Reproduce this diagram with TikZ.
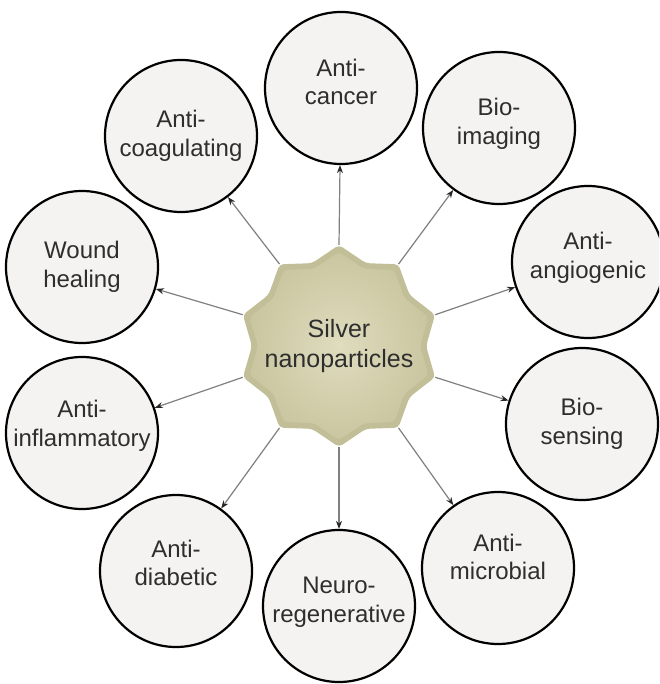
\documentclass[tikz,border=0pt]{standalone}
\usepackage{fontspec}
\setmainfont{Liberation Sans}
\usetikzlibrary{shapes.geometric,arrows.meta}
\definecolor{circfill}{HTML}{F4F3F1}
\definecolor{txt}{HTML}{2E2E2E}
\definecolor{starin}{HTML}{DFDCBF}
\definecolor{starout}{HTML}{CAC6A0}
\definecolor{starrim}{HTML}{C2BE97}
\definecolor{conn}{HTML}{808080}
\begin{document}
\begin{tikzpicture}[x=1pt,y=-1pt,
 bubble/.style={circle,draw=black,line width=2.2pt,fill=circfill,minimum size=152pt,inner sep=0pt},
 lbl/.style={font=\fontsize{24}{28.5}\selectfont,text=txt,align=center,inner sep=0pt},
 corelbl/.style={font=\fontsize{25}{30}\selectfont,text=txt,align=center,inner sep=0pt},
 core/.style={star,star points=10,star point ratio=1.16,minimum size=202pt,inner sep=0pt,
   fill=starrim,rounded corners=4pt},
 coreface/.style={star,star points=10,star point ratio=1.16,minimum size=188pt,inner sep=0pt,
   shade,inner color=starin,outer color=starout,rounded corners=4pt},
 link/.style={draw=conn,line width=1.2pt,-{Stealth[length=8pt,width=6pt,color=black!85]}}
]
\useasboundingbox (0,0) rectangle (659,684);
\clip (0,0) rectangle (659,684);
\fill[white] (0,0) rectangle (659,684);

\node[core] (s) at (339,346) {};
\node[coreface] (sf) at (339,346) {};
\node[corelbl] (st) at (339,346) {Silver\\nanoparticles};

\node[bubble] (c1) at (341,88) {};
\node[bubble] (c2) at (181,136) {};
\node[bubble] (c3) at (82,267) {};
\node[bubble] (c4) at (82,433) {};
\node[bubble] (c5) at (176,571) {};
\node[bubble] (c6) at (339,606) {};
\node[bubble] (c7) at (498,568) {};
\node[bubble] (c8) at (582,424) {};
\node[bubble] (c9) at (588,262) {};
\node[bubble] (c10) at (499,128) {};

\node[lbl] (t1) at (341,82) {Anti-\\cancer};
\node[lbl] (t2) at (181,136) {Anti-\\coagulating};
\node[lbl] (t3) at (82,267) {Wound\\healing};
\node[lbl] (t4) at (82,426) {Anti-\\inflammatory};
\node[lbl] (t5) at (176,563) {Anti-\\diabetic};
\node[lbl] (t6) at (339,602) {Neuro-\\regenerative};
\node[lbl] (t7) at (498,557) {Anti-\\microbial};
\node[lbl] (t8) at (582,424) {Bio-\\sensing};
\node[lbl] (t9) at (588,258) {Anti-\\angiogenic};
\node[lbl] (t10) at (499,124) {Bio-\\imaging};

\draw[link] (s.outer point 1) -- (c1);
\draw[link] (s.outer point 2) -- (c2);
\draw[link] (s.outer point 3) -- (c3);
\draw[link] (s.outer point 4) -- (c4);
\draw[link] (s.outer point 5) -- (c5);
\draw[link] (s.outer point 6) -- (c6);
\draw[link] (s.outer point 7) -- (c7);
\draw[link] (s.outer point 8) -- (c8);
\draw[link] (s.outer point 9) -- (c9);
\draw[link] (s.outer point 10) -- (c10);
\end{tikzpicture}
\end{document}
